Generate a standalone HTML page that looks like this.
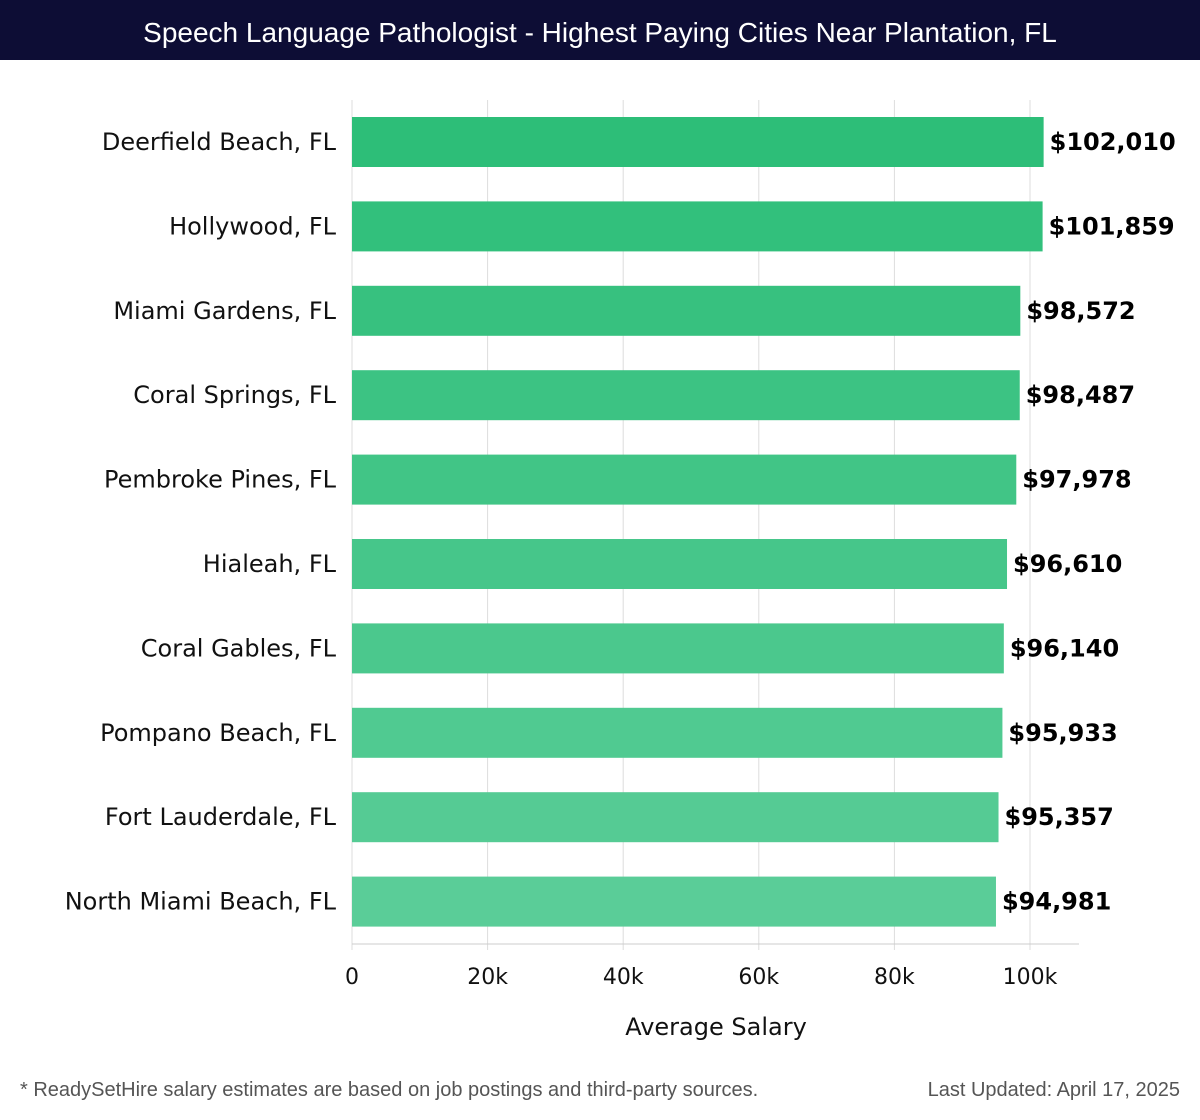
<!DOCTYPE html>
<html><head><meta charset="utf-8"><style>
body{margin:0;width:1200px;height:1120px;background:#fff;font-family:"DejaVu Sans","Liberation Sans",sans-serif;overflow:hidden}
#title{position:absolute;left:0;top:0;width:1200px;height:60px;background:#0d0d35;color:#fff;font-size:28px;text-align:center;line-height:66px;font-family:"Liberation Sans",sans-serif}
.foot{position:absolute;top:1079px;font-size:20px;color:#555;font-family:"Liberation Sans",sans-serif}
</style></head><body>
<div id="title">Speech Language Pathologist - Highest Paying Cities Near Plantation, FL</div>
<svg id="chart" width="1200" height="1120" style="position:absolute;left:0;top:0"></svg>
<div class="foot" style="left:20px">* ReadySetHire salary estimates are based on job postings and third-party sources.</div>
<div class="foot" style="right:20px">Last Updated: April 17, 2025</div>
<script>
const categories=["Deerfield Beach, FL","Hollywood, FL","Miami Gardens, FL","Coral Springs, FL","Pembroke Pines, FL","Hialeah, FL","Coral Gables, FL","Pompano Beach, FL","Fort Lauderdale, FL","North Miami Beach, FL"];
const values=[102010,101859,98572,98487,97978,96610,96140,95933,95357,94981];
const tickValues=[0,20000,40000,60000,80000,100000];
const tickLabels=["0","20k","40k","60k","80k","100k"];
const NS="http://www.w3.org/2000/svg";
const svg=document.getElementById('chart');
const x0=352,pxPer=678/100000,top0=100,step=84.4;
const xs=v=>x0+v*pxPer;
const ys=i=>top0+17+i*step;
function mk(t,a){const e=document.createElementNS(NS,t);for(const k in a)e.setAttribute(k,a[k]);svg.appendChild(e);return e;}
tickValues.forEach((v,i)=>{
 const g=mk('line',{x1:xs(v),x2:xs(v),y1:top0,y2:950,stroke:'#ddd','stroke-width':1});
 
 
 const t=mk('text',{x:xs(v),y:984,'text-anchor':'middle','font-size':22,fill:'#111'});
 t.textContent=tickLabels[i];
 
 
});
const ax=mk('line',{x1:x0,x2:1079,y1:944,y2:944,stroke:'#ccc','stroke-width':1});


const c1=[45,190,120],c2=[90,205,152];
categories.forEach((c,i)=>{
 const f=i/(categories.length-1);
 const col=`rgb(${c1.map((a,k)=>Math.round(a+(c2[k]-a)*f)).join(',')})`;
 const r=mk('rect',{x:x0,y:ys(i),width:xs(values[i])-x0,height:50,fill:col});
 
 
 const l=mk('text',{x:336,y:ys(i)+33,'text-anchor':'end','font-size':24,fill:'#111'});
 l.textContent=c;
 
 
 const v=mk('text',{x:xs(values[i])+6,y:ys(i)+33,'font-size':24,'font-weight':'bold',fill:'#000'});
 v.textContent='$'+values[i].toLocaleString('en-US');
 
 
});
const xt=mk('text',{x:716,y:1035,'text-anchor':'middle','font-size':24,fill:'#111'});
xt.textContent='Average Salary';


</script>
</body></html>
